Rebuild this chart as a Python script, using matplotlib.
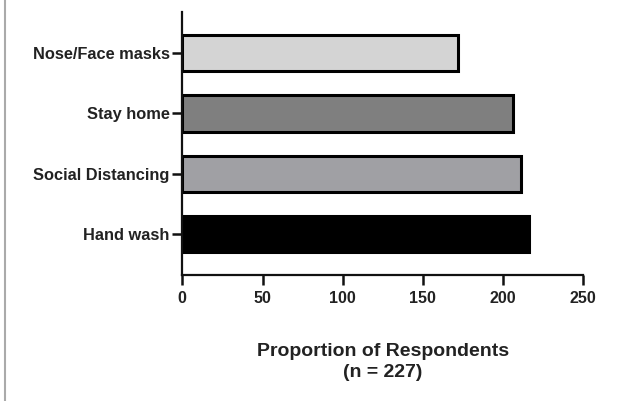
import matplotlib
matplotlib.use("Agg")
import matplotlib.pyplot as plt
from matplotlib.lines import Line2D

categories = ["Hand wash", "Social Distancing", "Stay home", "Nose/Face masks"]
values = [216, 211, 206, 172]
colors = ["#000000", "#a0a0a4", "#7f7f7f", "#d4d4d4"]
xticks = [0, 50, 100, 150, 200, 250]
xlabel = "Proportion of Respondents\n(n = 227)"

plt.rcParams['font.family'] = ['Liberation Sans', 'DejaVu Sans']
plt.rcParams['font.weight'] = 'bold'

fig = plt.figure(figsize=(6.24, 4.01), dpi=100)
ax = fig.add_axes([182.3/624, 1-275/401, (583.3-182.3)/624, (275-11.7)/401])

ypos = list(range(len(categories)))
ax.barh(ypos, values, height=0.6, color=colors, edgecolor="black", linewidth=2.2)

ax.set_xlim(0, 250)
ax.set_ylim(-0.674, 3.685)
ax.set_xticks(xticks)
ax.set_xticklabels([str(t) for t in xticks], fontsize=11.5, fontweight='bold', color='#222222')
ax.set_yticks(ypos)
ax.set_yticklabels(categories, fontsize=11.8, fontweight='bold', color='#222222')
for s in ["top", "right"]:
    ax.spines[s].set_visible(False)
for s in ["left", "bottom"]:
    ax.spines[s].set_linewidth(1.6)
    ax.spines[s].set_color('#111111')
ax.tick_params(axis='both', length=7.5, width=1.8, color='#111111')
ax.tick_params(axis='x', pad=4)
ax.tick_params(axis='y', pad=1.5)

ax.set_xlabel(xlabel, fontsize=14, fontweight='bold', color='#222222', labelpad=27, linespacing=1.3)

fig.add_artist(Line2D([5/624, 5/624], [0, 1], transform=fig.transFigure, color='#aaaaaa', lw=1.5))

fig.savefig("out.png", dpi=100)
